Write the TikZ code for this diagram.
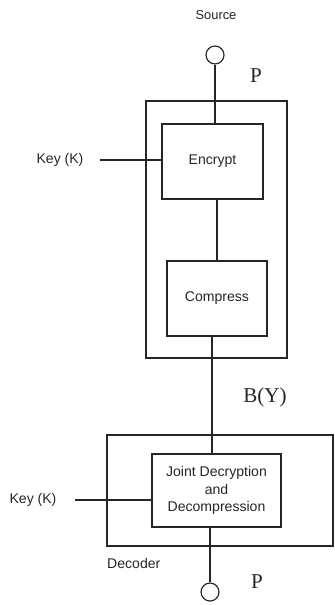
\documentclass[tikz,border=0pt]{standalone}
\usepackage{fontspec}
\setmainfont{Liberation Sans}
\newfontfamily\serifsym{Liberation Serif}
\usetikzlibrary{positioning,calc}

\begin{document}
\begin{tikzpicture}[
  x=0.3mm, y=-0.3mm,
  font=\fontsize{12}{15}\selectfont,
  every node/.style={text=black!85},
  blk/.style={rectangle,draw=black!85,line width=1.3pt,align=center,inner sep=0pt},
  frame/.style={rectangle,draw=black!85,line width=1.2pt,inner sep=0pt},
  port/.style={circle,draw=black!85,line width=1pt,minimum size=5.4mm,inner sep=0pt},
  wire/.style={black!85,line width=1pt},
  sym/.style={font=\serifsym\fontsize{18}{20}\selectfont},
]
\useasboundingbox (0,0) rectangle (334,605);

% encoder side
\node[frame,minimum width=42.3mm,minimum height=77.1mm] (encoder) at (216.5,229.5) {};
\node[port] (src) at (215,55) {};
\node[font=\fontsize{11}{13}\selectfont] (srclbl) at (216,15) {Source};
\node[blk,minimum width=30.3mm,minimum height=22.5mm] (enc) at (212.5,161.5) {Encrypt};
\node[blk,minimum width=30mm,minimum height=22.5mm] (cmp) at (217,298.5) {Compress};
\node (keyE) at (60,160) {Key (K)};
\node[sym] (pTop) at (256,76) {P};
\node[sym] (by) at (265,397) {B(Y)};

% decoder side
\node[frame,minimum width=67.8mm,minimum height=33.3mm] (dec) at (220,490.5) {};
\node[blk,minimum width=38.7mm,minimum height=21.9mm] (jnt) at (216.5,490.5)
   {Joint Decryption\\and\\Decompression};
\node (keyD) at (33,500) {Key (K)};
\node[anchor=west,inner sep=0pt] (declbl) at (107,563) {Decoder};
\node[port] (snk) at (210,592) {};
\node[sym] (pBot) at (257,582) {P};

\coordinate (bY) at ([xshift=-1.5mm]cmp.south);

\draw[wire] (src) -- (src |- enc.north);
\draw[wire] (cmp.north |- enc.south) -- (cmp.north);
\draw[wire] (bY) -- (bY |- jnt.north);
\draw[wire] (jnt.south -| snk) -- (snk);
\draw[wire] ([xshift=3.7mm]keyE.east) -- (keyE -| enc.west);
\draw[wire] ([xshift=4.3mm]keyD.east) -- (keyD -| jnt.west);
\end{tikzpicture}
\end{document}
